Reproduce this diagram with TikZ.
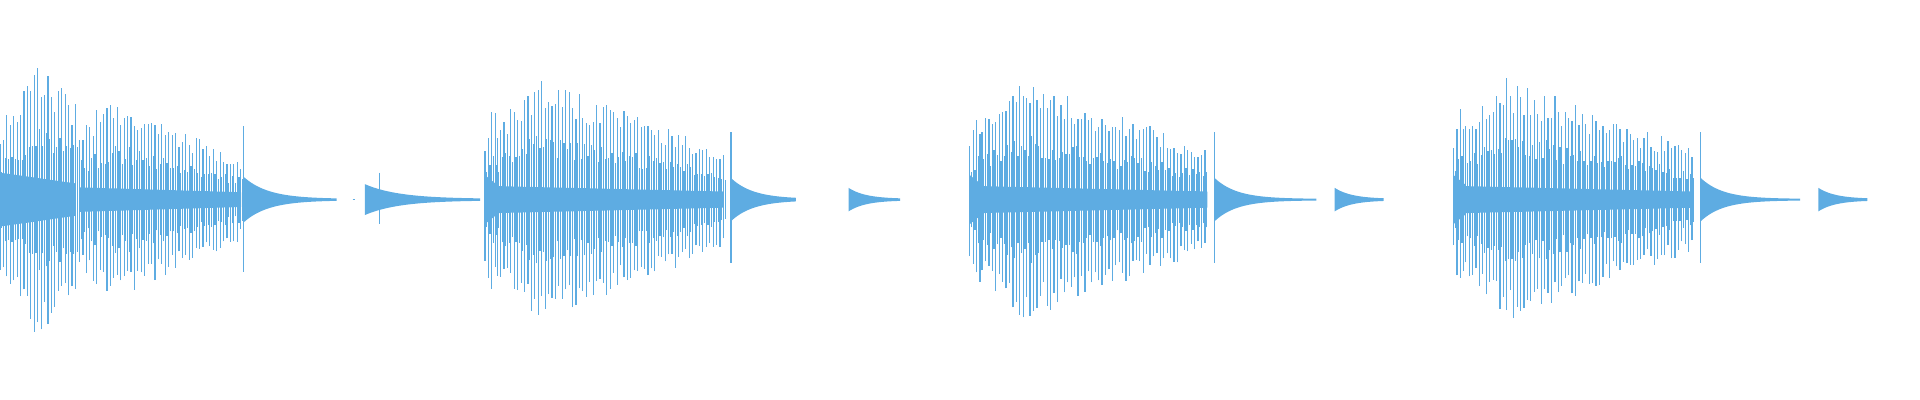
\documentclass[tikz,border=0pt]{standalone}
\definecolor{wavec}{RGB}{94,172,226}
\tikzset{wave/.style={draw=wavec,line width=0.35pt},wavefill/.style={fill=wavec}}
% #1 start #2 peak #3 end #4 a0 #5 apk #6 a1 #7 core
\newcommand\wburst[7]{%
 \fill[wavefill] (#1,163-#7) -- (#3,163-#7*0.6) -- (#3,163+#7*0.6) -- (#1,163+#7) -- cycle;
 \pgfmathsetmacro\wfirst{#1}%
 \pgfmathsetmacro\wsecond{#1+2.8}%
 \pgfmathsetmacro\wlast{#3}%
 \foreach \x in {\wfirst,\wsecond,...,\wlast}{%
  \pgfmathsetmacro\amp{(\x<#2)?(#4+(#5-#4)*(\x-#1)/(#2-#1)):(#5+(#6-#5)*(\x-#2)/(#3-#2))}%
  \pgfmathsetmacro\up{\amp*(0.72+0.28*rnd)}%
  \pgfmathsetmacro\dn{\amp*(0.72+0.28*rnd)}%
  \pgfmathsetmacro\mu{\amp*(0.35+0.2*rnd)}%
  \draw[wave] (\x,163+\up) -- (\x,163-\dn);
  \draw[wave] (\x+1.4,163+\mu) -- (\x+1.4,163-\mu);
 }}
% #1 start #2 end #3 amp #4 tau
\newcommand\wtail[4]{%
 \fill[wavefill] plot[domain=#1:#2,samples=40] (\x,{163+#3*exp(-(\x-#1)/#4)+0.6}) -- plot[domain=#2:#1,samples=40] (\x,{163-#3*exp(-(\x-#1)/#4)-0.6}) -- cycle;}
\begin{document}
\begin{tikzpicture}[x=0.01224cm,y=-0.01224cm]
\pgfmathsetseed{7}
\useasboundingbox (0,0) rectangle (1568,326);
% segment 1
\wburst{0}{30}{62}{60}{112}{80}{22}
\wburst{65}{92}{197}{60}{85}{33}{10}
\draw[wave] (199,103) -- (199,222);
\wtail{199}{275}{18}{20}
\wtail{298}{392}{12}{28}
\draw[wave] (310,141) -- (310,183);
\draw[wave] (288,163) -- (290,163);
% segments 2-4
\foreach \o/\pk/\sp/\te/\ss/\se in {396/440/597/650/693/735, 792/835/992/1075/1090/1130, 1187/1230/1389/1470/1485/1525}{
 \pgfmathsetmacro\oa{\o+5}
 \pgfmathsetmacro\a{\o+10}
 \pgfmathsetmacro\b{\sp-6}
 \wburst{\o}{\oa}{\a}{50}{75}{70}{20}
 \wburst{\a}{\pk}{\b}{65}{100}{42}{11}
 \draw[wave] (\sp,108) -- (\sp,215);
 \wtail{\sp}{\te}{17}{18}
 \wtail{\ss}{\se}{9}{14}
}
\end{tikzpicture}
\end{document}
